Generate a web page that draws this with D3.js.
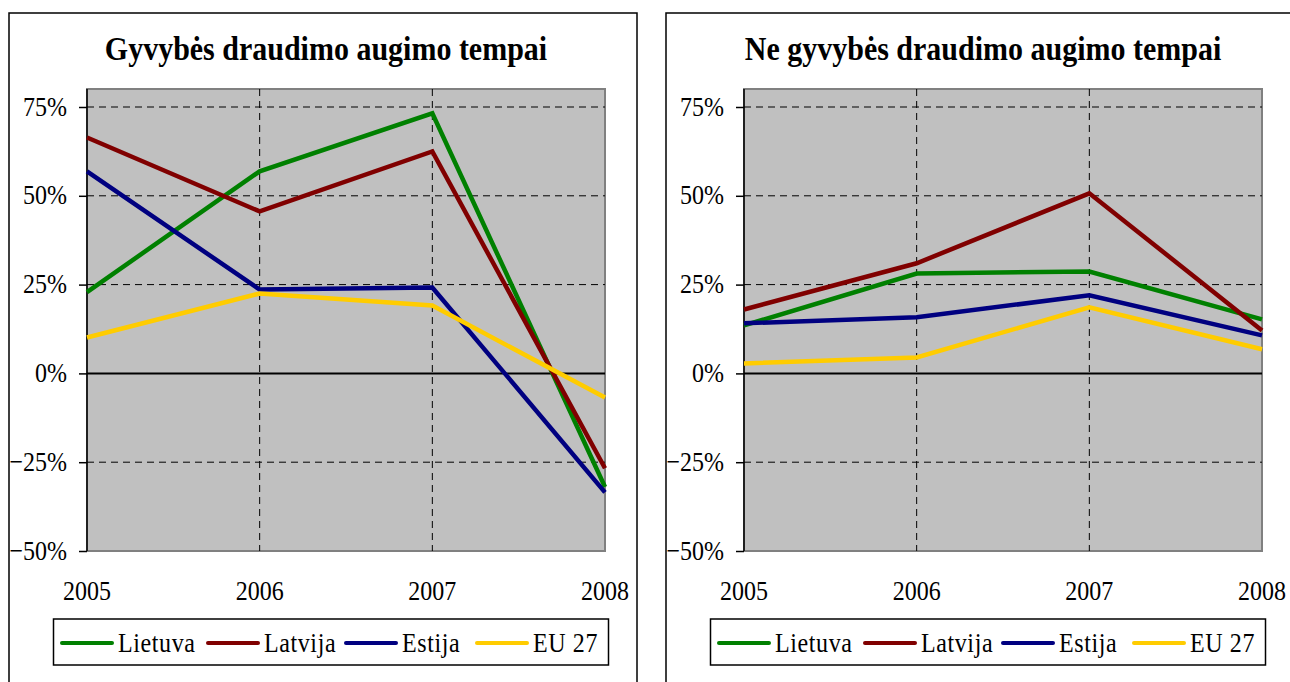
<!DOCTYPE html>
<html>
<head>
<meta charset="utf-8">
<script src="https://cdn.jsdelivr.net/npm/d3@7"></script>
<style>
  body { margin: 0; background: #fff; }
  text { font-family: "Liberation Serif", "Times New Roman", serif; fill: #000; }
</style>
</head>
<body>
<svg id="chart"></svg>
<script>
const width = 1290, height = 682;
const svg = d3.select("#chart").attr("width", width).attr("height", height);

// data
const years = ["2005", "2006", "2007", "2008"];
const seriesNames = ["Lietuva", "Latvija", "Estija", "EU 27"];
const seriesColors = ["#008000", "#800000", "#000080", "#FFCC00"];
const yTicks = [-0.5, -0.25, 0, 0.25, 0.5, 0.75];
const titles = ["Gyvybės draudimo augimo tempai", "Ne gyvybės draudimo augimo tempai"];

// life insurance growth
const lifeLietuva = [0.229, 0.569, 0.732, -0.320];
const lifeLatvija = [0.664, 0.456, 0.625, -0.267];
const lifeEstija  = [0.569, 0.236, 0.242, -0.335];
const lifeEU27    = [0.101, 0.225, 0.191, -0.068];

// non-life insurance growth
const nonLifeLietuva = [0.135, 0.281, 0.287, 0.152];
const nonLifeLatvija = [0.180, 0.310, 0.507, 0.121];
const nonLifeEstija  = [0.141, 0.158, 0.220, 0.107];
const nonLifeEU27    = [0.028, 0.045, 0.186, 0.068];

const panels = [
  {title: titles[0], series: [lifeLietuva, lifeLatvija, lifeEstija, lifeEU27], ox: 0},
  {title: titles[1], series: [nonLifeLietuva, nonLifeLatvija, nonLifeEstija, nonLifeEU27], ox: 657}
];

const plot = {left: 87, right: 605, top: 89, bottom: 551};
const stretch = 1.15; // the source text is drawn a bit taller than normal

const x = d3.scalePoint().domain(years).range([plot.left, plot.right]);
const y = d3.scaleLinear().domain([-0.5, 0.8]).range([plot.bottom, plot.bottom - (plot.bottom - 107) * 1.3 / 1.25]);

function tallText(sel, tx, ty) {
  return sel.attr("transform", `translate(${tx},${ty}) scale(1,${stretch})`);
}

panels.forEach(p => {
  const g = svg.append("g").attr("transform", `translate(${p.ox},0)`);

  // panel border (bottom runs off the page)
  g.append("rect")
    .attr("x", 9).attr("y", 13)
    .attr("width", 628).attr("height", 700)
    .attr("fill", "none").attr("stroke", "#000").attr("stroke-width", 1.5);

  tallText(g.append("text"), 326, 60)
    .attr("text-anchor", "middle")
    .attr("font-size", "30px").attr("font-weight", "bold")
    .text(p.title);

  // plot background
  g.append("rect")
    .attr("x", plot.left).attr("y", plot.top)
    .attr("width", plot.right - plot.left).attr("height", plot.bottom - plot.top)
    .attr("fill", "#C0C0C0").attr("stroke", "#808080").attr("stroke-width", 2);

  // horizontal grid
  g.selectAll(".hgrid")
    .data(yTicks.filter(d => d !== 0 && d !== -0.5))
    .enter().append("line")
    .attr("x1", plot.left).attr("x2", plot.right)
    .attr("y1", d => y(d)).attr("y2", d => y(d))
    .attr("stroke", "#000").attr("stroke-width", 1).attr("stroke-dasharray", "7,5");

  // vertical grid
  g.selectAll(".vgrid")
    .data(years.slice(1, 3))
    .enter().append("line")
    .attr("x1", d => x(d)).attr("x2", d => x(d))
    .attr("y1", plot.top).attr("y2", plot.bottom)
    .attr("stroke", "#000").attr("stroke-width", 1).attr("stroke-dasharray", "7,5");

  // zero line
  g.append("line")
    .attr("x1", plot.left).attr("x2", plot.right)
    .attr("y1", y(0)).attr("y2", y(0))
    .attr("stroke", "#000").attr("stroke-width", 2);

  // y axis
  const yAxis = g.append("g")
    .attr("transform", `translate(${plot.left},0)`)
    .call(d3.axisLeft(y).tickValues(yTicks).tickFormat(d3.format(".0%")).tickSize(8).tickPadding(12));
  yAxis.attr("font-family", null);
  yAxis.select(".domain").attr("stroke", "#000").attr("stroke-width", 1.5)
    .attr("d", `M0,${plot.top}V${plot.bottom}`);
  yAxis.selectAll(".tick line").attr("stroke", "#000").attr("stroke-width", 1.5);
  yAxis.selectAll(".tick text")
    .attr("font-size", "24px")
    .attr("x", null).attr("dy", null)
    .attr("transform", `translate(-20,8) scale(1,${stretch})`);

  // x labels
  g.selectAll(".xlab")
    .data(years)
    .enter().append("text")
    .attr("transform", d => `translate(${x(d)},600) scale(1,${stretch})`)
    .attr("text-anchor", "middle")
    .attr("font-size", "24px")
    .text(d => d);

  // lines
  const line = d3.line().x((d, i) => x(years[i])).y(d => y(d));
  g.selectAll(".series")
    .data(p.series)
    .enter().append("path")
    .attr("d", line)
    .attr("fill", "none")
    .attr("stroke", (d, i) => seriesColors[i])
    .attr("stroke-width", 4.5);

  // legend
  const lg = g.append("g");
  lg.append("rect")
    .attr("x", 53.5).attr("y", 619).attr("width", 555).attr("height", 46)
    .attr("fill", "#fff").attr("stroke", "#000").attr("stroke-width", 1.5);
  const legX = [62, 208, 346, 477];
  seriesNames.forEach((name, i) => {
    lg.append("line")
      .attr("x1", legX[i]).attr("x2", legX[i] + 50)
      .attr("y1", 643).attr("y2", 643)
      .attr("stroke", seriesColors[i]).attr("stroke-width", 4).attr("stroke-linecap", "round");
    tallText(lg.append("text"), legX[i] + 56, 652)
      .attr("font-size", "24px")
      .attr("letter-spacing", "0.6px")
      .text(name);
  });
});
</script>
</body>
</html>
